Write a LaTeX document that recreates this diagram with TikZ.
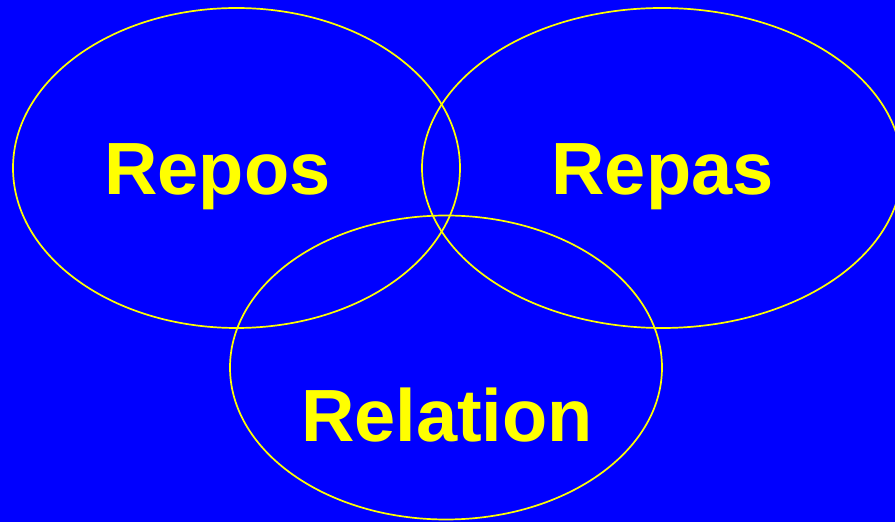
\documentclass[tikz,border=0pt]{standalone}
\usepackage{fontspec}
\setmainfont{Liberation Sans}
\definecolor{bgblue}{RGB}{0,0,255}
\definecolor{ylw}{RGB}{255,255,0}
\tikzset{
  ring/.style={draw=ylw, line width=1.7pt},
  lbl/.style={text=ylw, font=\fontsize{74}{80}\selectfont\bfseries, anchor=base, inner sep=0pt}
}
\begin{document}
\begin{tikzpicture}[x=1pt,y=1pt]
\fill[bgblue] (0,0) rectangle (895,522);
\useasboundingbox (0,0) rectangle (895,522);
\begin{scope}
\clip (0,0) rectangle (895,522);
\draw[ring] (236.5,354) ellipse [x radius=223.5, y radius=160];
\draw[ring] (662,354) ellipse [x radius=240, y radius=160];
\draw[ring] (446,154.5) ellipse [x radius=216, y radius=152];
\end{scope}
\node[lbl] (repos) at (217.5,327) {Repos};
\node[lbl] (repas) at (662.5,327) {Repas};
\node[lbl] (relation) at (447,80) {Relation};
\end{tikzpicture}
\end{document}
